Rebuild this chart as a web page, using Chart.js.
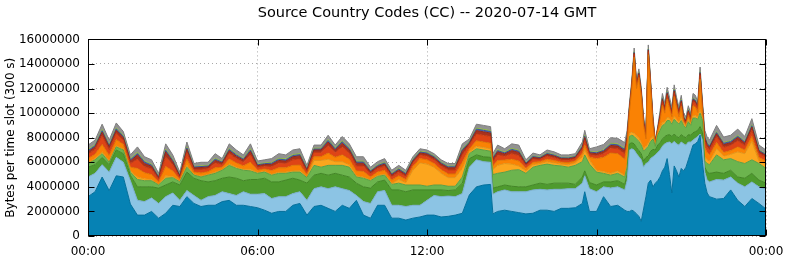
<!DOCTYPE html>
<html>
<head>
<meta charset="utf-8">
<title>Source Country Codes (CC)</title>
<script src="https://cdn.jsdelivr.net/npm/chart.js@4.4.1/dist/chart.umd.min.js"></script>
<style>
  html, body { margin: 0; padding: 0; background: #fff; }
  #wrap { width: 786px; height: 261px; }
</style>
</head>
<body>
<div id="wrap"><canvas id="cc-chart" width="786" height="261"></canvas></div>
<script>
// Source Country Codes stacked area, one day in 5-minute slots (sampled)
// values in millions of bytes per slot

const TITLE = 'Source Country Codes (CC) -- 2020-07-14 GMT'
const Y_LABEL = 'Bytes per time slot (300 s)'

// minutes since 00:00
const times = [
  0, 15, 30, 45, 60, 75, 90, 105, 120, 135, 150, 165,
  180, 195, 210, 225, 240, 255, 270, 285, 300, 315, 330, 345,
  360, 375, 390, 405, 420, 435, 450, 465, 480, 495, 510, 525,
  540, 555, 570, 585, 600, 615, 630, 645, 660, 675, 690, 705,
  720, 735, 750, 765, 780, 795, 810, 825, 840, 855, 860, 870,
  885, 900, 915, 930, 945, 960, 975, 990, 1005, 1020, 1035, 1050,
  1055, 1065, 1080, 1095, 1110, 1125, 1140, 1145, 1150, 1155, 1160, 1165,
  1170, 1175, 1180, 1185, 1190, 1195, 1200, 1205, 1210, 1215, 1220, 1225,
  1230, 1235, 1240, 1245, 1250, 1255, 1260, 1265, 1270, 1275, 1280, 1285,
  1290, 1295, 1300, 1305, 1310, 1315, 1320, 1335, 1350, 1365, 1380, 1395,
  1410, 1425, 1440
]

const darkBlue = [
  3.2, 3.6, 4.8, 3.7, 4.9, 4.8, 2.6, 1.7, 1.7, 2.0, 1.45, 1.85,
  2.5, 2.4, 3.2, 2.65, 2.4, 2.5, 2.5, 2.8, 2.9, 2.5, 2.5, 2.4,
  2.3, 2.1, 1.85, 2.0, 2.0, 2.5, 2.65, 1.7, 2.4, 2.5, 2.25, 2.0,
  2.5, 2.25, 2.9, 1.7, 1.45, 2.5, 2.5, 1.45, 1.45, 1.3, 1.45, 1.55,
  1.7, 1.7, 1.55, 1.6, 1.7, 1.85, 3.35, 4.0, 4.15, 4.2, 1.8, 2.0,
  2.1, 2.0, 1.9, 1.8, 1.85, 2.1, 2.1, 2.0, 2.25, 2.25, 2.3, 2.65,
  3.6, 2.0, 2.0, 3.2, 2.4, 2.5, 2.1, 2.0, 2.0, 2.1, 2.0, 1.8,
  1.6, 1.2, 2.2, 3.2, 4.3, 4.55, 4.0, 4.3, 4.5, 4.8, 5.3, 5.6,
  6.3, 5.0, 3.5, 5.7, 5.3, 4.8, 5.5, 5.3, 5.6, 6.2, 6.8, 7.4,
  7.5, 7.7, 8.2, 6.0, 4.3, 3.5, 3.2, 3.0, 3.05, 3.75, 2.9, 2.4,
  3.05, 2.65, 2.2
]
const lightBlue = [
  1.6, 1.5, 1.0, 1.5, 1.5, 1.2, 1.9, 1.2, 1.1, 1.1, 1.2, 1.35,
  1.0, 0.5, 0.5, 0.65, 0.5, 0.7, 0.8, 0.8, 0.55, 0.8, 1.1, 1.0,
  1.1, 1.35, 1.2, 1.2, 1.2, 0.95, 0.95, 1.2, 1.45, 1.5, 1.6, 2.0,
  1.35, 1.45, 0.4, 1.1, 1.2, 1.1, 1.2, 1.05, 1.05, 1.1, 1.05, 0.95,
  1.2, 1.6, 1.65, 1.65, 1.5, 1.6, 2.25, 2.2, 1.9, 1.8, 1.6, 1.6,
  1.65, 1.6, 1.7, 1.8, 1.9, 1.7, 1.65, 1.8, 1.55, 1.6, 1.55, 1.65,
  1.3, 1.85, 1.6, 0.8, 1.5, 1.5, 1.65, 2.5, 5.0, 5.0, 5.0, 4.9,
  4.85, 5.0, 3.4, 2.7, 1.7, 1.75, 2.45, 2.3, 2.3, 2.2, 2.0, 1.9,
  1.3, 2.65, 4.0, 2.0, 2.2, 2.6, 2.15, 2.2, 1.8, 1.45, 0.85, 0.4,
  0.45, 0.4, 0.1, 1.8, 0.9, 1.05, 1.2, 1.6, 1.5, 1.05, 1.4, 1.6,
  1.35, 1.35, 1.6
]
const darkGreen = [
  0.8, 0.7, 0.6, 0.6, 0.6, 0.7, 0.45, 1.1, 1.2, 0.9, 1.25, 0.95,
  0.9, 1.25, 1.5, 1.4, 1.6, 1.2, 1.2, 1.1, 1.35, 1.4, 0.9, 1.2,
  1.2, 1.25, 1.35, 1.2, 1.35, 1.25, 0.95, 1.4, 1.1, 1.1, 1.1, 1.1,
  1.1, 1.1, 1.0, 1.2, 1.25, 0.8, 0.85, 1.25, 1.25, 1.2, 1.25, 1.25,
  0.85, 0.45, 0.55, 0.45, 0.55, 0.85, 0.7, 0.4, 0.4, 0.4, 0.5, 0.4,
  0.4, 0.45, 0.4, 0.4, 0.4, 0.5, 0.45, 0.5, 0.5, 0.45, 0.35, 0.5,
  0.4, 0.5, 0.55, 0.4, 0.5, 0.5, 0.45, 0.5, 0.5, 0.5, 0.5, 0.5,
  0.5, 0.5, 0.5, 0.5, 0.5, 0.6, 0.6, 0.4, 0.6, 0.6, 0.6, 0.6,
  0.6, 0.6, 0.6, 0.6, 0.6, 0.6, 0.6, 0.6, 0.6, 0.6, 0.55, 0.6,
  0.55, 0.5, 0.6, 0.6, 0.4, 0.65, 0.7, 0.6, 0.55, 0.55, 0.5, 0.7,
  0.7, 0.55, 0.5
]
const midGreen = [
  0.3, 0.4, 0.3, 0.2, 0.25, 0.3, 0.25, 0.6, 0.5, 0.5, 0.25, 0.55,
  0.35, 0.25, 0.4, 0.25, 0.3, 0.55, 0.6, 0.65, 0.95, 0.8, 0.85, 0.7,
  0.5, 0.5, 0.55, 0.7, 0.55, 0.5, 0.65, 0.45, 0.8, 0.5, 0.8, 0.65,
  0.8, 0.8, 0.5, 0.7, 0.6, 0.45, 0.4, 0.45, 0.55, 0.55, 0.4, 0.4,
  0.3, 0.4, 0.4, 0.35, 0.3, 0.5, 0.4, 0.5, 0.55, 0.5, 1.1, 1.1,
  1.05, 1.3, 1.4, 1.1, 1.45, 1.45, 1.65, 1.45, 1.4, 1.3, 1.55, 1.25,
  1.3, 1.5, 1.05, 0.7, 0.55, 0.6, 0.6, 0.6, 0.6, 0.6, 0.6, 0.7,
  0.75, 0.7, 0.8, 0.7, 0.8, 0.8, 0.85, 0.3, 0.8, 1.0, 1.1, 1.0,
  1.2, 1.15, 1.0, 1.2, 1.2, 1.1, 1.15, 0.9, 0.8, 1.05, 0.8, 1.2,
  1.1, 0.9, 1.1, 1.0, 0.5, 0.7, 0.7, 1.4, 1.1, 0.95, 1.25, 1.2,
  1.1, 1.35, 1.2
]
const amber = [
  0.1, 0.1, 0.15, 0.1, 0.1, 0.1, 0.1, 0.2, 0.15, 0.1, 0.05, 0.2,
  0.1, 0.05, 0.15, 0.05, 0.08, 0.06, 0.1, 0.05, 0.12, 0.1, 0.08, 0.15,
  0.06, 0.06, 0.08, 0.1, 0.1, 0.1, 0.12, 0.06, 0.4, 0.55, 0.5, 0.3,
  0.3, 0.2, 0.1, 0.1, 0.06, 0.08, 0.1, 0.08, 0.3, 0.2, 1.2, 1.8,
  1.8, 1.45, 0.95, 0.7, 0.7, 0.7, 0.15, 0.2, 0.2, 0.2, 0.4, 0.65,
  0.7, 0.5, 0.3, 0.2, 0.2, 0.15, 0.2, 0.2, 0.15, 0.2, 0.2, 0.4,
  0.4, 0.35, 0.15, 0.15, 0.15, 0.2, 0.15, 0.2, 0.25, 0.25, 0.25, 0.25,
  0.25, 0.25, 0.2, 0.2, 0.25, 0.25, 0.2, 0.1, 0.15, 0.2, 0.25, 0.2,
  0.25, 0.2, 0.2, 0.25, 0.2, 0.2, 0.25, 0.2, 0.15, 0.2, 0.15, 0.2,
  0.2, 0.2, 0.3, 0.2, 0.3, 0.3, 0.3, 0.5, 0.3, 0.35, 0.8, 0.8,
  1.5, 0.2, 0.4
]
const orange = [
  0.3, 0.35, 0.6, 0.45, 0.5, 0.35, 0.3, 0.7, 0.5, 0.4, 0.2, 0.75,
  0.45, 0.15, 0.5, 0.2, 0.25, 0.22, 0.35, 0.2, 0.4, 0.35, 0.28, 0.55,
  0.2, 0.2, 0.3, 0.35, 0.35, 0.45, 0.45, 0.2, 0.3, 0.3, 0.5, 0.35,
  0.55, 0.45, 0.4, 0.45, 0.25, 0.28, 0.3, 0.27, 0.3, 0.25, 0.3, 0.35,
  0.35, 0.3, 0.3, 0.3, 0.3, 0.5, 0.25, 0.45, 0.45, 0.45, 0.3, 0.4,
  0.28, 0.4, 0.4, 0.2, 0.2, 0.15, 0.2, 0.2, 0.16, 0.17, 0.16, 0.28,
  0.4, 0.2, 0.95, 1.15, 1.65, 1.4, 1.3, 1.6, 1.75, 3.55, 6.2, 3.85,
  4.95, 3.75, 1.9, 0.6, 7.2, 4.0, 0.9, 0.1, 0.2, 0.6, 1.4, 0.7,
  1.5, 0.8, 0.4, 1.6, 1.0, 0.4, 0.9, 0.1, 0.1, 0.3, 0.15, 0.8,
  0.7, 0.35, 2.45, 0.6, 0.8, 0.6, 0.5, 0.5, 0.3, 0.3, 0.4, 0.3,
  0.4, 0.3, 0.2
]
const red = [
  0.35, 0.4, 0.7, 0.45, 0.5, 0.35, 0.3, 0.75, 0.5, 0.45, 0.2, 0.8,
  0.5, 0.15, 0.55, 0.2, 0.28, 0.25, 0.4, 0.2, 0.45, 0.35, 0.3, 0.6,
  0.22, 0.22, 0.32, 0.4, 0.35, 0.45, 0.5, 0.22, 0.35, 0.35, 0.6, 0.4,
  0.65, 0.5, 0.4, 0.45, 0.25, 0.28, 0.32, 0.27, 0.3, 0.25, 0.3, 0.3,
  0.3, 0.3, 0.3, 0.32, 0.32, 0.6, 0.3, 0.55, 0.55, 0.55, 0.35, 0.45,
  0.32, 0.45, 0.45, 0.22, 0.25, 0.17, 0.25, 0.22, 0.18, 0.2, 0.18, 0.3,
  0.4, 0.22, 0.25, 0.3, 0.4, 0.4, 0.45, 0.4, 0.2, 0.2, 0.22, 0.2,
  0.2, 0.2, 0.2, 0.2, 0.25, 0.23, 0.2, 0.08, 0.1, 0.25, 0.3, 0.25,
  0.3, 0.28, 0.25, 0.3, 0.25, 0.25, 0.28, 0.2, 0.2, 0.25, 0.2, 0.32,
  0.3, 0.27, 0.32, 0.25, 0.5, 0.42, 0.4, 0.47, 0.42, 0.42, 0.5, 0.36,
  0.5, 0.32, 0.3
]
const darkRed = [
  0.2, 0.2, 0.3, 0.25, 0.25, 0.2, 0.2, 0.35, 0.25, 0.22, 0.14, 0.4,
  0.25, 0.12, 0.25, 0.14, 0.16, 0.14, 0.2, 0.14, 0.22, 0.2, 0.16, 0.28,
  0.14, 0.14, 0.18, 0.2, 0.2, 0.25, 0.25, 0.14, 0.2, 0.2, 0.3, 0.2,
  0.3, 0.25, 0.22, 0.22, 0.15, 0.16, 0.18, 0.15, 0.17, 0.15, 0.15, 0.15,
  0.17, 0.17, 0.17, 0.18, 0.18, 0.3, 0.15, 0.28, 0.28, 0.28, 0.2, 0.25,
  0.18, 0.25, 0.25, 0.14, 0.14, 0.1, 0.14, 0.14, 0.11, 0.12, 0.11, 0.18,
  0.22, 0.14, 0.15, 0.18, 0.22, 0.22, 0.25, 0.22, 0.12, 0.12, 0.12, 0.12,
  0.12, 0.12, 0.12, 0.12, 0.13, 0.12, 0.12, 0.05, 0.06, 0.13, 0.16, 0.13,
  0.16, 0.15, 0.13, 0.16, 0.13, 0.13, 0.15, 0.12, 0.1, 0.13, 0.12, 0.17,
  0.16, 0.14, 0.17, 0.13, 0.25, 0.22, 0.21, 0.25, 0.22, 0.22, 0.27, 0.2,
  0.27, 0.17, 0.15
]
const blue = [
  0.1, 0.1, 0.12, 0.1, 0.12, 0.1, 0.1, 0.12, 0.12, 0.1, 0.07, 0.12,
  0.1, 0.06, 0.12, 0.07, 0.08, 0.07, 0.1, 0.07, 0.1, 0.1, 0.08, 0.12,
  0.07, 0.07, 0.09, 0.1, 0.1, 0.1, 0.1, 0.07, 0.08, 0.08, 0.12, 0.1,
  0.12, 0.1, 0.1, 0.1, 0.08, 0.08, 0.09, 0.08, 0.08, 0.08, 0.08, 0.08,
  0.08, 0.08, 0.08, 0.08, 0.08, 0.12, 0.07, 0.12, 0.12, 0.12, 0.1, 0.1,
  0.08, 0.1, 0.1, 0.07, 0.07, 0.06, 0.07, 0.07, 0.06, 0.06, 0.06, 0.08,
  0.1, 0.07, 0.07, 0.08, 0.1, 0.1, 0.1, 0.1, 0.06, 0.06, 0.06, 0.06,
  0.06, 0.06, 0.06, 0.06, 0.06, 0.06, 0.06, 0.03, 0.03, 0.06, 0.08, 0.06,
  0.08, 0.07, 0.06, 0.08, 0.06, 0.06, 0.07, 0.06, 0.05, 0.06, 0.06, 0.08,
  0.08, 0.07, 0.08, 0.06, 0.1, 0.1, 0.1, 0.1, 0.1, 0.1, 0.1, 0.09,
  0.1, 0.08, 0.07
]
const lime = [
  0.08, 0.08, 0.1, 0.08, 0.08, 0.08, 0.08, 0.1, 0.08, 0.08, 0.05, 0.1,
  0.08, 0.05, 0.08, 0.05, 0.06, 0.06, 0.08, 0.05, 0.08, 0.08, 0.06, 0.1,
  0.06, 0.06, 0.07, 0.08, 0.08, 0.08, 0.08, 0.06, 0.07, 0.07, 0.08, 0.07,
  0.08, 0.08, 0.08, 0.08, 0.06, 0.06, 0.07, 0.06, 0.06, 0.05, 0.06, 0.06,
  0.06, 0.06, 0.06, 0.06, 0.06, 0.08, 0.06, 0.08, 0.08, 0.08, 0.07, 0.08,
  0.07, 0.08, 0.08, 0.05, 0.05, 0.04, 0.05, 0.05, 0.04, 0.05, 0.04, 0.06,
  0.08, 0.05, 0.06, 0.06, 0.08, 0.08, 0.08, 0.07, 0.05, 0.05, 0.05, 0.05,
  0.05, 0.05, 0.05, 0.05, 0.05, 0.05, 0.05, 0.03, 0.03, 0.05, 0.06, 0.05,
  0.06, 0.06, 0.05, 0.06, 0.05, 0.05, 0.06, 0.05, 0.05, 0.05, 0.05, 0.06,
  0.06, 0.05, 0.06, 0.05, 0.08, 0.07, 0.07, 0.08, 0.07, 0.07, 0.08, 0.06,
  0.08, 0.06, 0.05
]
const grey = [
  0.37, 0.37, 0.43, 0.37, 0.4, 0.32, 0.32, 0.43, 0.35, 0.35, 0.24, 0.43,
  0.37, 0.22, 0.4, 0.24, 0.29, 0.25, 0.37, 0.24, 0.38, 0.32, 0.29, 0.4,
  0.25, 0.25, 0.31, 0.37, 0.32, 0.37, 0.4, 0.25, 0.25, 0.25, 0.35, 0.23,
  0.35, 0.32, 0.35, 0.35, 0.25, 0.26, 0.29, 0.24, 0.24, 0.22, 0.21, 0.21,
  0.19, 0.19, 0.19, 0.21, 0.21, 0.4, 0.22, 0.32, 0.32, 0.32, 0.28, 0.37,
  0.27, 0.37, 0.42, 0.22, 0.24, 0.18, 0.24, 0.22, 0.2, 0.2, 0.2, 0.3,
  0.4, 0.22, 0.42, 0.43, 0.45, 0.45, 0.47, 0.41, 0.27, 0.27, 0.3, 0.27,
  0.27, 0.27, 0.27, 0.27, 0.31, 0.29, 0.27, 0.11, 0.13, 0.31, 0.35, 0.31,
  0.35, 0.34, 0.31, 0.35, 0.31, 0.31, 0.34, 0.27, 0.25, 0.31, 0.27, 0.37,
  0.35, 0.32, 0.37, 0.31, 0.47, 0.44, 0.42, 0.5, 0.44, 0.44, 0.5, 0.39,
  0.5, 0.37, 0.33
]

// bottom to top
const layers = [darkBlue, lightBlue, darkGreen, midGreen, amber, orange, red, darkRed, blue, lime, grey]
const fills = ['#0682b4', '#8cc4e4', '#4e9a2e', '#6cb44e', '#fca61e', '#fa8204', '#de4416', '#a8321e', '#4466b4', '#a6d04c', '#929292']
const edges = ['#05709c', '#7aaecb', '#438626', '#5e9f43', '#e09218', '#dc7204', '#c23a12', '#902a18', '#38559a', '#8fb640', '#7e7e7e']

// gnuplot style frame with inward tick marks
const frameTicks = {
  id: 'frameTicks',
  afterDatasetsDraw(chart) {
    const { ctx, chartArea: a, scales } = chart
    const L = Math.round(a.left) + 0.5, R = Math.round(a.right) - 0.5
    const T = Math.round(a.top) + 0.5, B = Math.round(a.bottom) - 0.5
    ctx.save()
    ctx.strokeStyle = '#000'
    ctx.lineWidth = 1
    ctx.beginPath()
    scales.y.ticks.forEach(t => {
      const py = Math.round(scales.y.getPixelForValue(t.value)) + 0.5
      ctx.moveTo(L, py); ctx.lineTo(L + 6, py)
      ctx.moveTo(R, py); ctx.lineTo(R - 6, py)
    })
    scales.x.ticks.forEach(t => {
      const px = Math.round(scales.x.getPixelForValue(t.value)) + 0.5
      ctx.moveTo(px, B); ctx.lineTo(px, B - 6)
      ctx.moveTo(px, T); ctx.lineTo(px, T + 6)
    })
    ctx.stroke()
    ctx.strokeRect(L, T, R - L, B - T)
    ctx.restore()
  }
}

const datasets = layers.map((vals, i) => ({
  data: times.map((t, j) => ({ x: t, y: vals[j] * 1000000 })),
  backgroundColor: fills[i],
  borderColor: edges[i],
  borderWidth: 1,
  pointRadius: 0,
  tension: 0,
  fill: i === 0 ? 'origin' : '-1'
}))

Chart.defaults.font.family = '"DejaVu Sans", Verdana, sans-serif'
Chart.defaults.color = '#000'

new Chart(document.getElementById('cc-chart'), {
  type: 'line',
  data: { datasets },
  plugins: [frameTicks],
  options: {
    responsive: false,
    animation: false,
    layout: { padding: { left: 0, right: 20, top: 0, bottom: 0 } },
    plugins: {
      legend: { display: false },
      tooltip: { enabled: false },
      title: {
        display: true,
        fullSize: false,
        text: TITLE,
        color: '#000',
        font: { size: 14.5, weight: 'normal' },
        padding: { top: 5, bottom: 17 }
      }
    },
    scales: {
      x: {
        type: 'linear',
        min: 0,
        max: 1440,
        grid: { color: '#a8a8a8', drawTicks: false },
        border: { display: false, dash: [1, 3] },
        ticks: {
          stepSize: 360,
          autoSkip: false,
          maxRotation: 0,
          padding: 9,
          font: { size: 12 },
          callback: v => String((v / 60) % 24).padStart(2, '0') + ':00'
        },
        afterFit: s => {
          s.height = 25
          s.paddingLeft = 0
          s.paddingRight = 0
        }
      },
      y: {
        stacked: true,
        min: 0,
        max: 16000000,
        grid: { color: '#a8a8a8', drawTicks: false },
        border: { display: false, dash: [1, 3] },
        ticks: {
          stepSize: 2000000,
          padding: 8,
          font: { size: 12 },
          callback: v => String(v)
        },
        title: {
          display: true,
          text: Y_LABEL,
          font: { size: 12 },
          padding: { top: 4, bottom: 0 }
        },
        afterFit: s => { s.width = 88 }
      }
    }
  }
})
</script>
</body>
</html>
